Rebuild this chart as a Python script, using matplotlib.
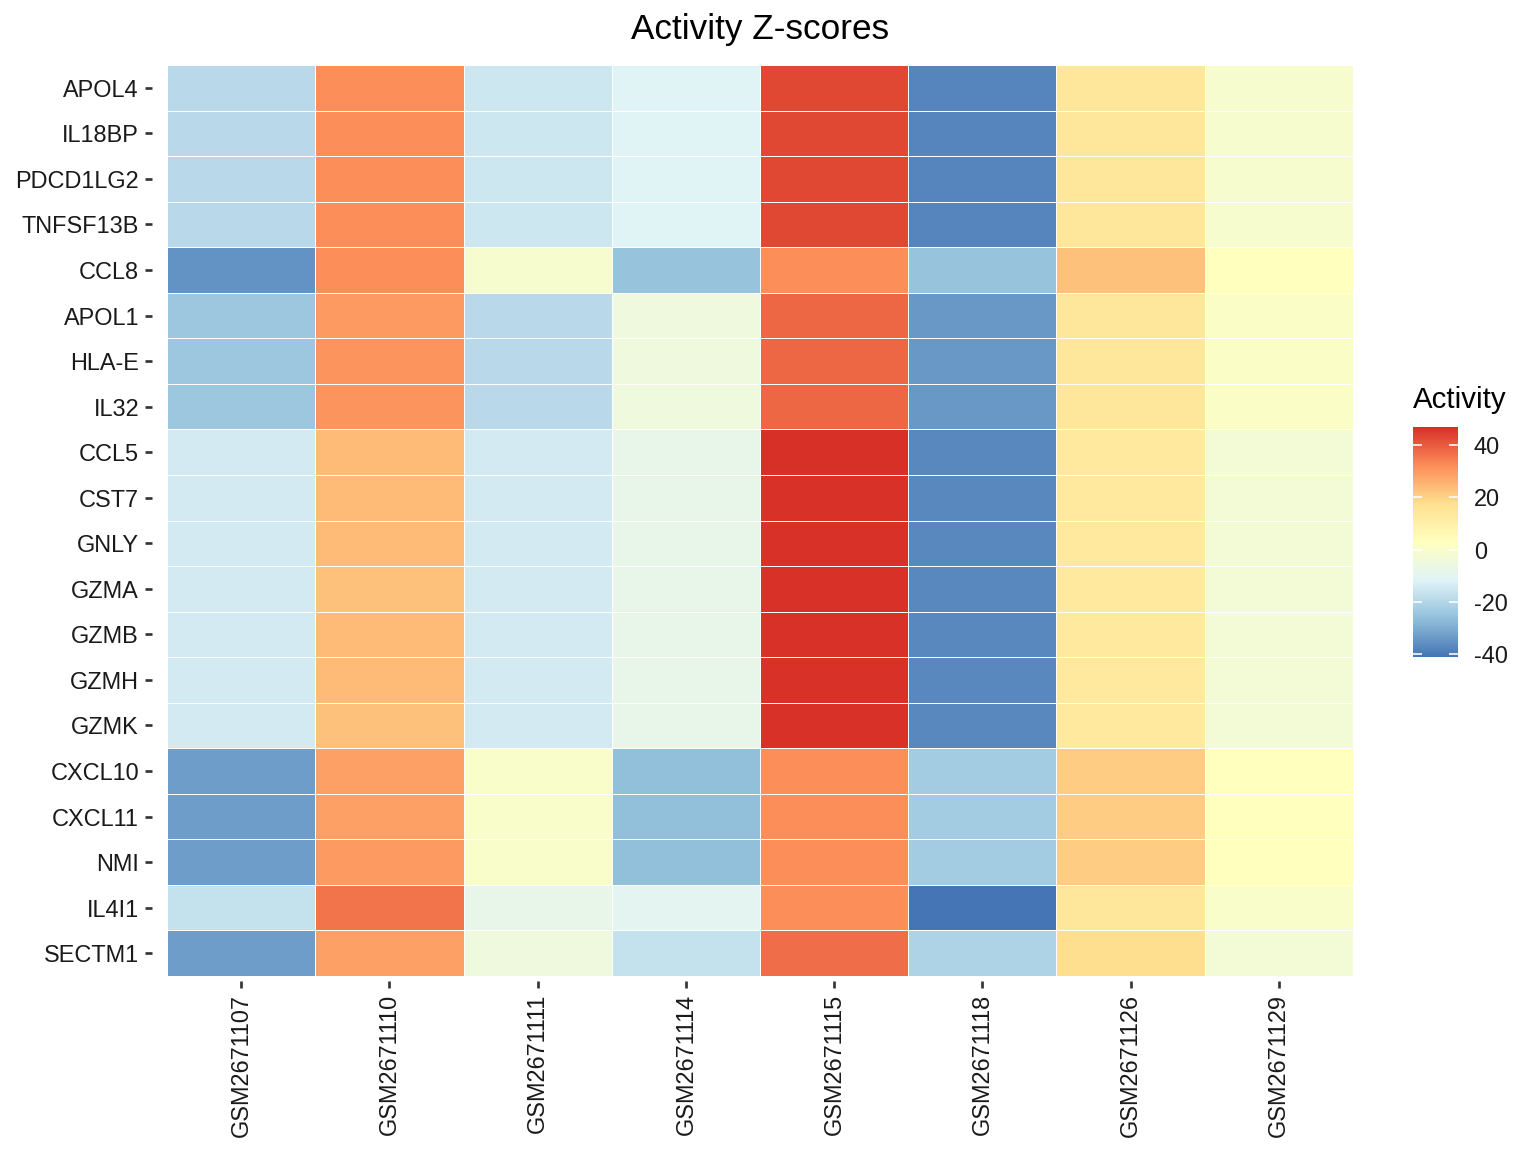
import matplotlib
matplotlib.use("Agg")
import matplotlib.pyplot as plt
import numpy as np
from matplotlib.colors import LinearSegmentedColormap

plt.rcParams["font.family"] = ["Liberation Sans", "DejaVu Sans"]
plt.rcParams["axes.unicode_minus"] = False

# muestras (columnas) y genes (filas)
muestras = ["GSM2671107", "GSM2671110", "GSM2671111", "GSM2671114",
            "GSM2671115", "GSM2671118", "GSM2671126", "GSM2671129"]
genes = ["APOL4", "IL18BP", "PDCD1LG2", "TNFSF13B", "CCL8", "APOL1", "HLA-E",
         "IL32", "CCL5", "CST7", "GNLY", "GZMA", "GZMB", "GZMH", "GZMK",
         "CXCL10", "CXCL11", "NMI", "IL4I1", "SECTM1"]

# valores estimados de actividad (filas = genes, columnas = muestras)
APOL4 = [-19, 32, -15, -11, 43, -38, 14, -1]
IL18BP = [-19, 32, -15, -11, 43, -38, 14, -1]
PDCD1LG2 = [-19, 32, -15, -11, 43, -38, 14, -1]
TNFSF13B = [-19, 32, -15, -11, 43, -38, 14, -1]
CCL8 = [-35, 32, -1, -25, 32, -25, 23, 3]
APOL1 = [-24, 30, -19, -5, 38, -34, 14, 1]
HLA_E = [-24, 31, -19, -5, 38, -34, 14, 1]
IL32 = [-24, 31, -19, -5, 38, -34, 14, 1]
CCL5 = [-14, 24, -14, -8, 46.9, -37, 13, -3]
CST7 = [-14, 24, -14, -8, 46.5, -37, 13, -3]
GNLY = [-14, 24, -14, -8, 46.5, -37, 13, -3]
GZMA = [-14, 23, -14, -8, 46.5, -37, 13, -3]
GZMB = [-14, 24, -14, -8, 46.5, -37, 13, -3]
GZMH = [-14, 24, -14, -8, 46.5, -37, 13, -3]
GZMK = [-14, 23, -14, -8, 46.5, -37, 13, -3]
CXCL10 = [-33, 29, 0, -26, 32, -23, 21, 3]
CXCL11 = [-33, 29, 0, -26, 32, -23, 21, 3]
NMI = [-33, 30, 0, -26, 32, -23, 21, 3]
IL4I1 = [-17, 36, -8, -10, 32, -41.1, 14, 0]
SECTM1 = [-33, 29, -5, -17, 37, -21, 18, -3]

valores = np.array([APOL4, IL18BP, PDCD1LG2, TNFSF13B, CCL8, APOL1, HLA_E,
                    IL32, CCL5, CST7, GNLY, GZMA, GZMB, GZMH, GZMK,
                    CXCL10, CXCL11, NMI, IL4I1, SECTM1], dtype=float)

# paleta RdYlBu de 7 colores (invertida)
colores = ["#4575b4", "#91bfdb", "#e0f3f8", "#ffffbf", "#fee090", "#fc8d59", "#d73027"]
cmap = LinearSegmentedColormap.from_list("rdylbu", colores)
vmin, vmax = valores.min(), valores.max()

W, H = 1536, 1152
fig = plt.figure(figsize=(8, 6), dpi=192)
# panel con la expansion discreta de ggplot (0.1 celda en cada lado)
x0, x1, y0, y1 = 152.2, 1367.8, 60.4, 980.6
ax = fig.add_axes([x0 / W, 1 - y1 / H, (x1 - x0) / W, (y1 - y0) / H])

malla = ax.pcolormesh(np.arange(len(muestras) + 1) - 0.5, np.arange(len(genes) + 1) - 0.5,
                      valores, cmap=cmap, vmin=vmin, vmax=vmax,
                      edgecolor="white", linewidth=0.3)
ax.set_xlim(-0.6, len(muestras) - 0.4)
ax.set_ylim(len(genes) - 0.4, -0.6)
ax.set_xticks(np.arange(len(muestras)))
ax.set_xticklabels(muestras, rotation=90, fontsize=8.8, color="#1a1a1a")
ax.set_yticks(np.arange(len(genes)))
ax.set_yticklabels(genes, fontsize=8.8, color="#1a1a1a")
ax.tick_params(length=2.75, width=1.0, color="#333333", pad=2.2)
for s in ax.spines.values():
    s.set_visible(False)

fig.text((167 + 1353) / 2 / W, 1 - 29 / H, "Activity Z-scores", ha="center", va="center",
         fontsize=13.2, color="black")

# barra de color
cax = fig.add_axes([1413 / W, 1 - 657 / H, 45 / W, 230 / H])
cb = fig.colorbar(malla, cax=cax)
cb.outline.set_visible(False)
cb.set_ticks([-40, -20, 0, 20, 40])
cax.tick_params(axis="y", which="both", left=True, right=True, direction="in",
                color="white", length=3.5, width=0.6, labelsize=8.8,
                labelcolor="#1a1a1a", pad=6)
fig.text(1413 / W, 1 - 400 / H, "Activity", ha="left", va="center", fontsize=11, color="black")

fig.savefig("out.png", dpi=192)
